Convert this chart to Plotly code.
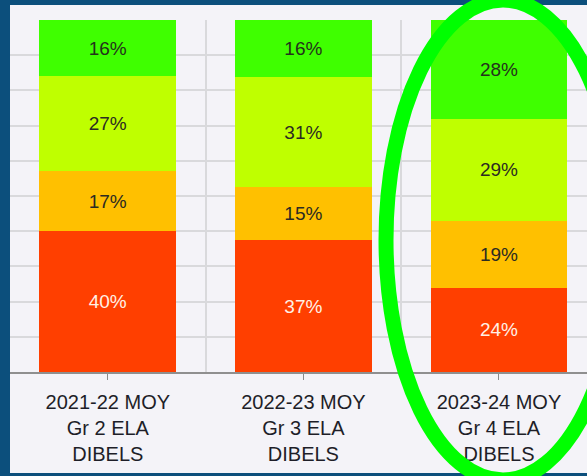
import plotly.graph_objects as go

categories = ["2021-22 MOY<br>Gr 2 ELA<br>DIBELS",
              "2022-23 MOY<br>Gr 3 ELA<br>DIBELS",
              "2023-24 MOY<br>Gr 4 ELA<br>DIBELS"]
x_pos = [0, 1, 2]

# stacked from bottom to top
red_vals = [40, 37, 24]
orange_vals = [17, 15, 19]
yellow_vals = [27, 31, 29]
green_vals = [16, 16, 28]

series = [
    ("Well Below Benchmark", red_vals, "#ff3f00", "#fff1e6"),
    ("Below Benchmark", orange_vals, "#ffc000", "#2b2b22"),
    ("At Benchmark", yellow_vals, "#bfff00", "#2b2b22"),
    ("Above Benchmark", green_vals, "#3fff00", "#24331c"),
]

W, H = 587, 476
ML, MR, MT, MB = 10, 0, 20, 104
pw, ph = W - ML - MR, H - MT - MB

def px_x(p):
    return (p - ML) / pw

def px_y(p):
    return (H - MB - p) / ph

fig = go.Figure()
for name, vals, col, tcol in series:
    fig.add_trace(go.Bar(
        x=x_pos, y=vals, name=name,
        marker=dict(color=col, line=dict(width=0)),
        text=[f"{v}%" for v in vals],
        textposition="inside", insidetextanchor="middle",
        textangle=0, constraintext="none",
        textfont=dict(family="Liberation Sans, Arial, sans-serif", size=19, color=tcol),
        hoverinfo="name+y",
    ))

panel = "#f4f3f8"
grid = "#d9d9dc"

fig.update_layout(
    width=W, height=H,
    barmode="stack", barnorm="percent", bargap=0.30,
    showlegend=False,
    paper_bgcolor="#0c4f7c",
    plot_bgcolor=panel,
    margin=dict(l=ML, r=MR, t=MT, b=MB, pad=0),
    xaxis=dict(
        range=[-0.5, 2.45],
        tickmode="array", tickvals=x_pos, ticktext=categories,
        ticks="outside", ticklen=6, tickcolor="#8a8a8a", tickwidth=1,
        ticklabelstandoff=5,
        showline=True, linecolor="#8f8f8f", linewidth=1.5,
        showgrid=False, zeroline=False,
        tickfont=dict(family="Liberation Sans, Arial, sans-serif", size=20, color="#1e1e28"),
        minor=dict(tickmode="array", tickvals=[-0.5, 0.5, 1.5, 2.5],
                   showgrid=True, gridcolor=grid, gridwidth=1.5, ticks=""),
        fixedrange=True,
    ),
    yaxis=dict(
        range=[0, 100], tickmode="linear", tick0=0, dtick=10,
        showgrid=True, gridcolor=grid, gridwidth=1.5,
        showticklabels=False, zeroline=False, showline=False,
    ),
    shapes=[
        dict(type="rect", xref="paper", yref="paper", layer="below",
             x0=px_x(10), x1=px_x(600), y0=px_y(473), y1=px_y(5),
             fillcolor=panel, line=dict(width=0)),
        dict(type="circle", xref="paper", yref="paper", layer="above",
             x0=px_x(386), x1=px_x(620), y0=px_y(480), y1=px_y(0),
             line=dict(color="#00ff00", width=15), fillcolor="rgba(0,0,0,0)"),
    ],
)

fig.write_html("out.html", config={"displayModeBar": False},
               post_script="document.body.style.margin='0';document.body.style.padding='0';document.body.style.overflow='hidden';")
